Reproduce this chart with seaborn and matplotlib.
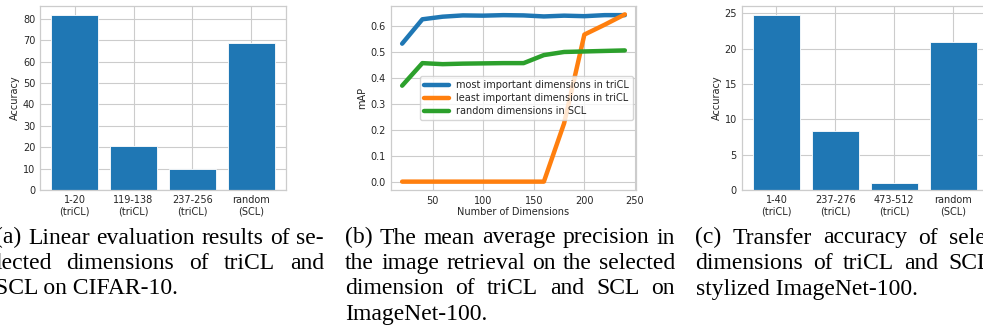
import numpy as np
import matplotlib
matplotlib.use("Agg")
import matplotlib.pyplot as plt
import matplotlib.transforms as mtransforms
from matplotlib.ticker import MultipleLocator
import seaborn as sns

# (a) linear evaluation on CIFAR-10
cifar_dims = ["1-20\n(triCL)", "119-138\n(triCL)", "237-256\n(triCL)", "random\n(SCL)"]
cifar_acc = [81.9, 20.6, 9.8, 68.8]

# (b) image retrieval mAP on ImageNet-100
n_dims = [20, 40, 60, 80, 100, 120, 140, 160, 180, 200, 220, 240]
map_most = [0.532, 0.626, 0.636, 0.641, 0.640, 0.642, 0.641, 0.637, 0.640, 0.638, 0.642, 0.642]
map_least = [0.0, 0.0, 0.0, 0.0, 0.0, 0.0, 0.0, 0.0, 0.225, 0.567, 0.605, 0.645]
map_random = [0.370, 0.457, 0.453, 0.455, 0.456, 0.457, 0.457, 0.488, 0.500, 0.502, 0.504, 0.506]
series_names = ["most important dimensions in triCL",
                "least important dimensions in triCL",
                "random dimensions in SCL"]

# (c) transfer accuracy on stylized ImageNet-100
styl_dims = ["1-40\n(triCL)", "237-276\n(triCL)", "473-512\n(triCL)", "random\n(SCL)"]
styl_acc = [24.8, 8.4, 0.95, 20.9]

captions = [
    ["(a) Linear evaluation results of se-", "lected dimensions of triCL and", "SCL on CIFAR-10."],
    ["(b) The mean average precision in", "the image retrieval on the selected",
     "dimension of triCL and SCL on", "ImageNet-100."],
    ["(c) Transfer accuracy of selected", "dimensions of triCL and SCL on", "stylized ImageNet-100."],
]

sns.set_theme(style="whitegrid", rc={
    "axes.edgecolor": ".8", "grid.color": ".8",
    "axes.linewidth": 0.9, "grid.linewidth": 0.8,
    "text.color": ".15", "xtick.color": ".15", "ytick.color": ".15",
    "axes.labelcolor": ".15",
})
plt.rcParams["font.family"] = ["DejaVu Sans"]

W, H = 983, 331
fig = plt.figure(figsize=(W / 100, H / 100), dpi=100)

def px_axes(left, right, top=6, bottom=190):
    return fig.add_axes([left / W, (H - bottom) / H, (right - left) / W, (bottom - top) / H])

ax_a = px_axes(40, 286)
ax_b = px_axes(391, 636)
ax_c = px_axes(741.7, 988)

fs = 7
blue = "#1f77b4"

for ax, cats, vals, step in [(ax_a, cifar_dims, cifar_acc, 10), (ax_c, styl_dims, styl_acc, 5)]:
    sns.barplot(x=cats, y=vals, color=blue, saturation=1, width=0.8,
                edgecolor="white", linewidth=0.6, ax=ax)
    ax.yaxis.set_major_locator(MultipleLocator(step))
    ax.set_ylim(0, max(vals) * 1.05)
    ax.set_xlim(-0.59, 3.59)
    ax.set_ylabel("Accuracy", fontsize=fs, labelpad=2)
    ax.tick_params(labelsize=fs, length=0, pad=3.5)
    ax.xaxis.grid(True)
    for s in ax.spines.values():
        s.set_visible(True)

for vals, name, col in zip([map_most, map_least, map_random], series_names,
                           [blue, "#ff7f0e", "#2ca02c"]):
    sns.lineplot(x=n_dims, y=vals, label=name, color=col, linewidth=3.2, ax=ax_b)
ax_b.set_xlim(9, 251)
ax_b.xaxis.set_major_locator(MultipleLocator(50))
ax_b.yaxis.set_major_locator(MultipleLocator(0.1))
ax_b.set_xlabel("Number of Dimensions", fontsize=fs, labelpad=1)
ax_b.set_ylabel("mAP", fontsize=fs, labelpad=2)
ax_b.tick_params(labelsize=fs, length=0, pad=4)
ax_b.legend(loc="center right", fontsize=fs, handlelength=2.5, labelspacing=0.3,
            borderaxespad=0.3)

# captions, justified like the LaTeX source
ident = mtransforms.IdentityTransform()
renderer = fig.canvas.get_renderer()
baselines = [243.5, 269, 294.5, 320]
columns = [(-5, 324), (345, 675), (695.5, 1025.5)]
cap_kw = dict(fontsize=17, family="Liberation Serif", color="black",
              va="baseline", ha="left", transform=ident)

for lines, (x0, x1) in zip(captions, columns):
    for i, line in enumerate(lines):
        y = H - baselines[i]
        if i == len(lines) - 1:
            fig.text(x0, y, line, **cap_kw)
            continue
        words = line.split()
        texts = [fig.text(0, y, w, **cap_kw) for w in words]
        widths = [t.get_window_extent(renderer).width for t in texts]
        gap = (x1 - x0 - sum(widths)) / (len(words) - 1)
        x = x0
        for t, w in zip(texts, widths):
            t.set_position((x, y))
            x += w + gap

fig.savefig("out.png", dpi=100)
